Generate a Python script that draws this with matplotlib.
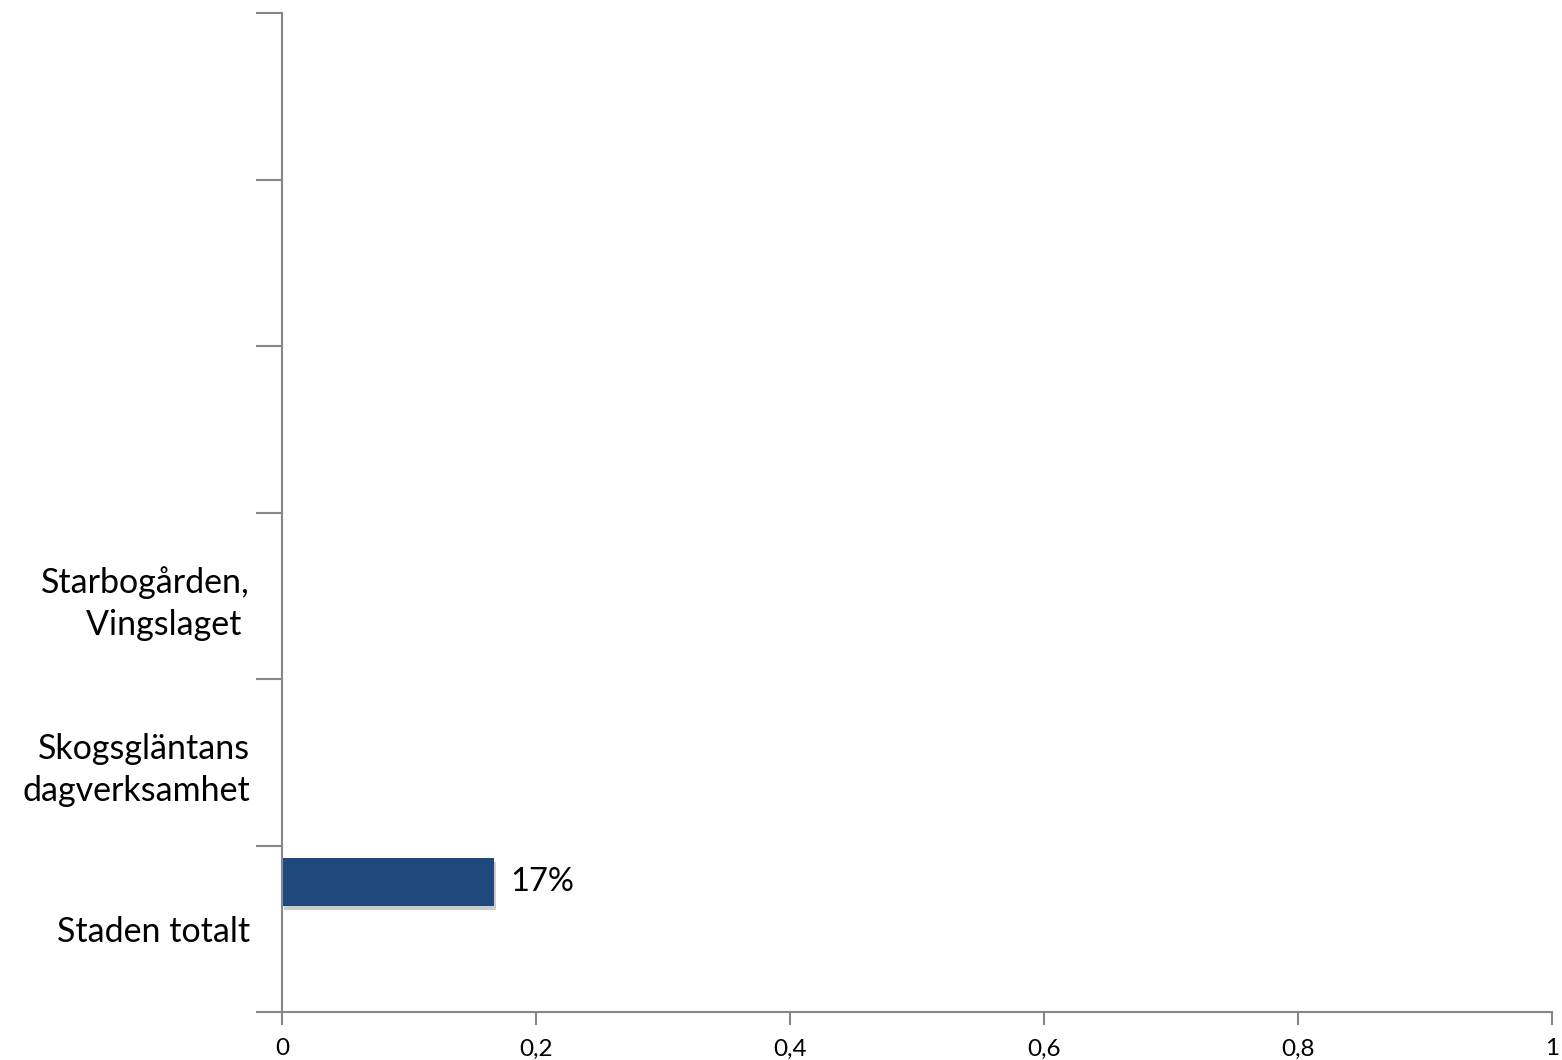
import numpy as np
import matplotlib.pyplot as plt
import matplotlib.patheffects as pe
from matplotlib.ticker import FuncFormatter

plt.rcParams['font.family'] = ['Lato', 'DejaVu Sans']

# categories from bottom to top (top three are empty in the source)
categories = ["Staden totalt", "Skogsgläntans\ndagverksamhet", "Starbogården,\nVingslaget ", "", "", ""]
values = [0.167]
value_labels = ["17%"]

xticks = [0, 0.2, 0.4, 0.6, 0.8, 1.0]

fig = plt.figure(figsize=(15.62, 10.6), dpi=100)
ax = fig.add_axes([282 / 1562, 1 - 1012 / 1060, 1270 / 1562, 999 / 1060])

pos = np.arange(len(categories))
bar_h = 0.288
offset = 0.279
bars = ax.barh(pos[:len(values)] + offset, values, height=bar_h, color="#1F497D",
               path_effects=[pe.SimplePatchShadow(offset=(1.5, -2.5), shadow_rgbFace="#808080", alpha=0.4),
                             pe.Normal()])
for b, lab in zip(bars, value_labels):
    ax.text(b.get_width() + 0.013, b.get_y() + b.get_height() / 2, lab,
            va="center", ha="left", fontsize=23.5, color="black")

ax.set_xlim(0, 1)
ax.set_ylim(-0.5, len(categories) - 0.5)
ax.set_xticks(xticks)
ax.xaxis.set_major_formatter(FuncFormatter(lambda v, p: ("%g" % v).replace(".", ",")))
ax.set_yticks(pos)
ax.set_yticklabels(categories, fontsize=24.5, multialignment="right", linespacing=1.38)
ax.set_yticks(np.arange(-0.5, len(categories)), minor=True)
ax.tick_params(axis="y", which="major", length=0, pad=23)
ax.tick_params(axis="y", which="minor", length=19, width=1.5, color="#868686")
ax.tick_params(axis="x", length=9, width=1.5, color="#868686", labelsize=17.5, pad=10)

for s in ["top", "right"]:
    ax.spines[s].set_visible(False)
for s in ["left", "bottom"]:
    ax.spines[s].set_color("#868686")
    ax.spines[s].set_linewidth(1.5)

fig.savefig("out.png", dpi=100)
